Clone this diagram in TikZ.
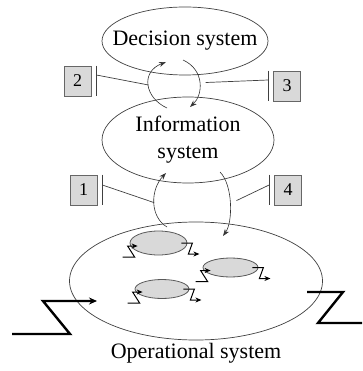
\documentclass[tikz,border=0pt]{standalone}
\usepackage{fontspec}
\setmainfont{Liberation Serif}
\usetikzlibrary{arrows.meta,shapes.geometric,positioning}

\begin{document}
\begin{tikzpicture}[x=1pt,y=-1pt,>={Stealth[length=7pt,width=5pt]},
sys/.style={ellipse,draw=black!75,line width=0.7pt,inner sep=0pt},
systext/.style={inner sep=0pt,align=center,font=\fontsize{22}{27}\selectfont},
numbox/.style={rectangle,draw=black!60,fill=black!15,line width=0.8pt,
minimum width=27pt,minimum height=30pt,inner sep=0pt,font=\fontsize{18}{18}\selectfont},
act/.style={ellipse,draw=black!65,fill=black!15,line width=0.8pt,inner sep=0pt},
line/.style={draw=black!75,line width=0.7pt},
flow/.style={->,draw=black!80,line width=0.6pt},
zig/.style={-{Stealth[length=6pt,width=5pt]},line width=1pt},
bigzig/.style={line width=2.4pt}]
\useasboundingbox (0,0) rectangle (362,371);

% the three systems
\node[sys,minimum width=166pt,minimum height=68pt] (dec) at (185,41) {};
\node[systext] (dectext) at (dec) {Decision system};
\node[sys,minimum width=172pt,minimum height=86pt] (info) at (188,140) {};
\node[systext] (infotext) at (info) {Information\\system};
\node[sys,minimum width=253pt,minimum height=118pt] (ops) at (196,281) {};
\node[systext,below=3pt of ops] (opstext) {Operational system};

% flows between the systems
\draw[flow] ([shift={(-21,-32)}]info.center) .. controls +(-22,-10) and +(-26,10) .. ([shift={(-19,21)}]dec.center) coordinate[pos=0.5] (up2);
\draw[flow] ([shift={(-2,19)}]dec.center) .. controls +(22,10) and +(13,-12) .. ([shift={(2,-33)}]info.center) coordinate[pos=0.5] (up3);
\draw[flow] ([shift={(-29,-54)}]ops.center) .. controls +(-17,-10) and +(-16,17) .. ([shift={(-22,33)}]info.center) coordinate[pos=0.5] (up1);
\draw[flow] ([shift={(32,32)}]info.center) .. controls +(13,13) and +(10,-14) .. ([shift={(27,-45)}]ops.center) coordinate[pos=0.5] (up4);

% numbered boxes
\node[numbox] (n2) at (77.5,81) {2};
\node[numbox] (n3) at (287,86) {3};
\node[numbox] (n1) at (83.5,190) {1};
\node[numbox] (n4) at (288,190) {4};
\draw[line] ([xshift=5pt]n2.north east) -- ([xshift=5pt]n2.south east);
\draw[line] ([xshift=-5pt]n3.north west) -- ([xshift=-5pt]n3.south west);
\draw[line] ([xshift=5pt]n1.north east) -- ([xshift=5pt]n1.south east);
\draw[line] ([xshift=-5pt]n4.north west) -- ([xshift=-5pt]n4.south west);
\draw[line] ([xshift=5pt,yshift=6pt]n2.east) -- (up2);
\draw[line,shorten >=6pt] ([xshift=-5pt,yshift=6pt]n3.west) -- (up3);
\draw[line] ([xshift=5pt,yshift=5pt]n1.east) -- (up1);
\draw[line,shorten >=7pt] ([xshift=-5pt,yshift=5pt]n4.west) -- (up4);

% activities inside the operational system
\node[act,minimum width=57pt,minimum height=24pt] (act1) at (158.5,243) {};
\node[act,minimum width=55pt,minimum height=19pt] (act2) at (230.5,267.5) {};
\node[act,minimum width=54pt,minimum height=19pt] (act3) at (162,289) {};
\foreach \a in {act1,act2,act3}{
\draw[zig] ([shift={(-7,14)}]\a.west) -- ++(12,0) -- ++(-7,-11) -- ++(10,0);
\draw[zig] ([shift={(-6,0)}]\a.east) -- ++(11,0) -- ++(-4,11) -- ++(11,0);
}

% environment in and out
\coordinate (envin) at (12,334);
\coordinate (envout) at (307,292);
\draw[bigzig,-{Stealth[length=8pt,width=7pt]}] (envin) -- ++(58,0) -- ++(-27,-33) -- ++(54,0);
\draw[bigzig] (envout) -- ++(36,0) -- ++(-25,31) -- ++(44,0);
\end{tikzpicture}
\end{document}
